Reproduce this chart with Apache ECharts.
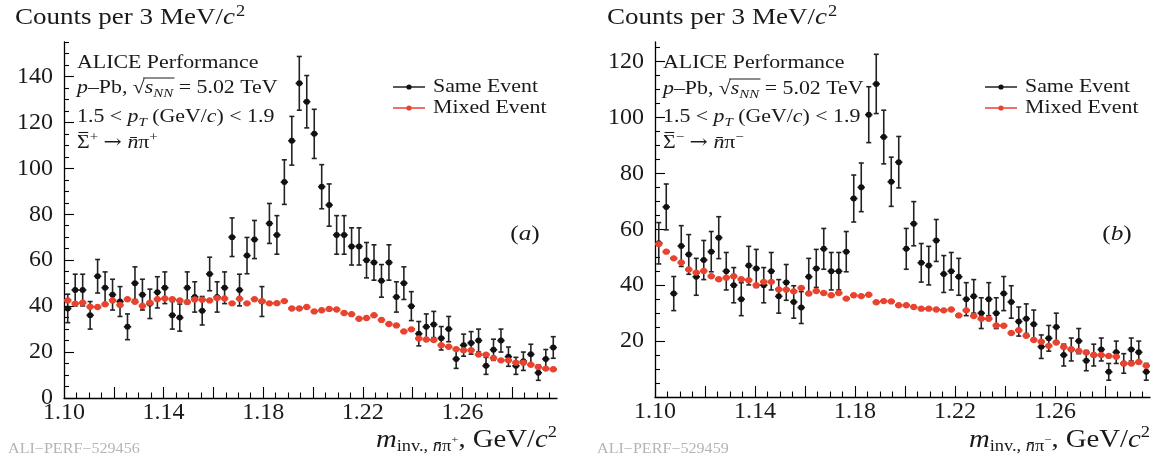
<!DOCTYPE html>
<html><head><meta charset="utf-8">
<script src="https://cdn.jsdelivr.net/npm/echarts@6/dist/echarts.min.js"></script>
<style>html,body{margin:0;padding:0;background:#fff}#c{width:1154px;height:463px}</style>
</head><body><div id="c"></div>
<script>
// ---- data (bin centres in GeV/c^2, 3 MeV bins) ----
const binCenters = [1.1015,1.1045,1.1075,1.1105,1.1135,1.1165,1.1195,1.1225,1.1255,1.1285,
 1.1315,1.1345,1.1375,1.1405,1.1435,1.1465,1.1495,1.1525,1.1555,1.1585,
 1.1615,1.1645,1.1675,1.1705,1.1735,1.1765,1.1795,1.1825,1.1855,1.1885,
 1.1915,1.1945,1.1975,1.2005,1.2035,1.2065,1.2095,1.2125,1.2155,1.2185,
 1.2215,1.2245,1.2275,1.2305,1.2335,1.2365,1.2395,1.2425,1.2455,1.2485,
 1.2515,1.2545,1.2575,1.2605,1.2635,1.2665,1.2695,1.2725,1.2755,1.2785,
 1.2815,1.2845,1.2875,1.2905,1.2935,1.2965];
const halfBin = 0.0015;

// panel (a): Sigma+bar -> nbar pi+
const sameA = [39,47,47,36,53,48,45,42,31,50, 45,41,46,48,36,35,48,44,38,54,
 44,48,70,47,62,69,42,76,71,94, 112,137,129,115,92,84,71,71,66,66,
 60,59,51,59,44,50,40,28,31,32, 26,30,17,23,24,25,14,21,25,18, 14,16,19,11,17,22];
const sameAErr = [6.2,6.9,6.9,6.0,7.3,6.9,6.7,6.5,5.6,7.1, 6.7,6.4,6.8,6.9,6.0,5.9,6.9,6.6,6.2,7.3,
 6.6,6.9,8.4,6.9,7.9,8.3,6.5,8.7,8.4,9.7, 10.6,11.7,11.4,10.7,9.6,9.2,8.4,8.4,8.1,8.1,
 7.7,7.7,7.1,7.7,6.6,7.1,6.3,5.3,5.6,5.7, 5.1,5.5,4.1,4.8,4.9,5.0,3.7,4.6,5.0,4.2, 3.7,4.0,4.4,3.3,4.1,4.7];
const mixedA = [42.5,41.1,41.5,39.7,39.6,40.8,42.5,40.5,43.0,41.9, 40.1,41.5,43.0,43.3,43.0,42.5,41.8,42.9,42.8,42.5,
 43.5,43.3,41.2,43.2,41.2,43.0,42.2,41.2,41.3,42.2, 39.0,39.0,39.6,37.7,38.2,38.8,38.5,37.0,36.5,34.5,
 34.8,36.0,34.0,32.2,31.6,29.0,29.9,25.9,25.5,25.2, 23.0,22.3,21.3,20.8,20.8,18.9,18.9,17.4,16.4,16.4, 15.4,15.4,14.5,13.5,12.8,12.5];

// panel (b): Sigma-bar -> nbar pi-
const sameB = [55,68,37,54,51,43,49,52,57,45, 40,35,47,46,40,45,36,41,34,32,
 43,46,53,45,45,52,71,75,101,112, 93,77,84,53,62,48,47,56,44,45,
 43,35,36,30,35,30,37,34,27,28, 26,18,21,25,15,17,20,13,15,17, 9,16,12,17,16,9];
const sameBErr = [7.4,8.2,6.1,7.3,7.1,6.6,7.0,7.2,7.5,6.7, 6.3,5.9,6.9,6.8,6.3,6.7,6.0,6.4,5.8,5.7,
 6.6,6.8,7.3,6.7,6.7,7.2,8.4,8.7,10.0,10.6, 9.6,8.8,9.2,7.3,7.9,6.9,6.9,7.5,6.6,6.7,
 6.6,5.9,6.0,5.5,5.9,5.5,6.1,5.8,5.2,5.3, 5.1,4.2,4.6,5.0,3.9,4.1,4.5,3.6,3.9,4.1, 3.0,4.0,3.5,4.1,4.0,3.0];
const mixedB = [54.7,52.0,49.6,48.1,45.6,44.5,45.1,43.2,42.1,42.7, 43.2,42.1,41.8,40.0,41.2,41.2,38.5,38.4,37.8,39.0,
 37.0,37.9,37.2,36.4,37.2,35.2,36.4,36.1,36.6,33.9, 34.3,34.2,32.8,32.8,32.2,31.6,31.6,31.3,31.0,31.3,
 29.2,31.0,29.0,28.0,28.0,25.6,25.5,22.9,23.9,21.9, 20.4,19.8,18.3,19.5,17.9,17.1,16.5,15.9,15.0,15.0, 14.7,14.4,12.0,12.0,12.5,11.2];

// ---- ticks ----
const xMajorTicks = [1.10,1.12,1.14,1.16,1.18,1.20,1.22,1.24,1.26,1.28];
const xTickLabels = [1.10,1.14,1.18,1.22,1.26];
const yMajorA = [0,20,40,60,80,100,120,140];
const yLabelA = [0,20,40,60,80,100,120,140];
const yMajorB = [0,20,40,60,80,100,120];
const yLabelB = [20,40,60,80,100,120];
const X_MIN = 1.10, X_MAX = 1.298, Y_MAX_A = 155, Y_MAX_B = 127;

const xMinorTicks = [];
xMajorTicks.forEach(m => [0.005,0.01,0.015].forEach(d => { const v = +(m + d).toFixed(4); if (v < X_MAX) xMinorTicks.push(v); }));
function yMinor(max){ const a=[]; for (let v=5; v<=max; v+=5) if (v%20) a.push(v); return a; }

// ---- style ----
const FONT = '"Liberation Serif","Times New Roman",serif';
const INK = '#1a1a1a';
const RED = '#e8432f';
const SX = 1.15;

function mainX(gi){
  return {type:'value', gridIndex:gi, min:X_MIN, max:X_MAX,
    axisLine:{show:true, onZero:false, lineStyle:{color:'#000', width:1.3}},
    axisTick:{show:true, inside:true, length:11, customValues:xMajorTicks, lineStyle:{color:'#000', width:1.1}},
    axisLabel:{show:true, customValues:xTickLabels, formatter:v=>Number(v).toFixed(2), margin:3,
      fontFamily:FONT, fontSize:24, color:INK},
    splitLine:{show:false}};
}
function minorX(gi){
  return {type:'value', gridIndex:gi, min:X_MIN, max:X_MAX,
    axisLine:{show:false}, axisLabel:{show:false}, splitLine:{show:false},
    axisTick:{show:true, inside:true, length:5.5, customValues:xMinorTicks, lineStyle:{color:'#000', width:1.1}}};
}
function mainY(gi, max, ticks, labels){
  return {type:'value', gridIndex:gi, min:0, max:max,
    axisLine:{show:true, onZero:false, lineStyle:{color:'#000', width:1.3}},
    axisTick:{show:true, inside:true, length:10, customValues:ticks, lineStyle:{color:'#000', width:1.1}},
    axisLabel:{show:true, customValues:labels, margin:11, fontFamily:FONT, fontSize:24, color:INK},
    splitLine:{show:false}};
}
function minorY(gi, max){
  return {type:'value', gridIndex:gi, min:0, max:max,
    axisLine:{show:false}, axisLabel:{show:false}, splitLine:{show:false},
    axisTick:{show:true, inside:true, length:5, customValues:yMinor(max), lineStyle:{color:'#000', width:1.1}}};
}

function renderSame(params, api){
  const x = api.value(0), y = api.value(1), e = api.value(2);
  const p = api.coord([x, y]);
  const pL = api.coord([x - halfBin, y]), pR = api.coord([x + halfBin, y]);
  const pT = api.coord([x, y + e]), pB = api.coord([x, y - e]);
  const st = {stroke:'#222', lineWidth:1.6};
  return {type:'group', children:[
    {type:'line', shape:{x1:p[0], y1:pT[1], x2:p[0], y2:pB[1]}, style:st},
    {type:'line', shape:{x1:p[0]-2.5, y1:pT[1], x2:p[0]+2.5, y2:pT[1]}, style:st},
    {type:'line', shape:{x1:p[0]-2.5, y1:pB[1], x2:p[0]+2.5, y2:pB[1]}, style:st},
    {type:'line', shape:{x1:pL[0], y1:p[1], x2:pR[0], y2:p[1]}, style:st},
    {type:'circle', shape:{cx:p[0], cy:p[1], r:3.0}, style:{fill:'#111'}}
  ]};
}
function renderMixed(params, api){
  const x = api.value(0), y = api.value(1);
  const p = api.coord([x, y]);
  const pL = api.coord([x - halfBin, y]), pR = api.coord([x + halfBin, y]);
  return {type:'group', children:[
    {type:'line', shape:{x1:pL[0], y1:p[1], x2:pR[0], y2:p[1]}, style:{stroke:RED, lineWidth:2.6}},
    {type:'circle', shape:{cx:p[0], cy:p[1], r:3.2}, style:{fill:RED}}
  ]};
}
function errSeries(name, xi, vals, errs){
  return {type:'custom', name, xAxisIndex:xi, yAxisIndex:xi, z:3, renderItem:renderSame,
    encode:{x:0, y:1}, data:binCenters.map((c,i)=>[c, vals[i], errs[i]])};
}
function mixSeries(name, xi, vals){
  return {type:'custom', name, xAxisIndex:xi, yAxisIndex:xi, z:4, renderItem:renderMixed,
    encode:{x:0, y:1}, data:binCenters.map((c,i)=>[c, vals[i]])};
}

// ---- text helpers ----
function R(size, o){ return Object.assign({fontFamily:FONT, fontSize:size, fill:INK, lineHeight:size+6}, o||{}); }
function T(x, y, text, rich, align, extra){
  return Object.assign({type:'text', x:x, y:y, scaleX:SX, silent:true, z:10,
    style:{text:text, rich:rich, align:align||'left', verticalAlign:'middle', fill:INK, fontFamily:FONT, fontSize:19}}, extra||{});
}
const mctx = document.createElement('canvas').getContext('2d');
function tw(t, size, italic){ mctx.font = (italic?'italic ':'') + size + 'px "Liberation Serif"'; return mctx.measureText(t).width; }

const titleRich = {n:R(23.5,{lineHeight:28}), i:R(23.5,{fontStyle:'italic', lineHeight:28}), s:R(16,{lineHeight:16, verticalAlign:'top', padding:[0,0,0,1]})};
const annRich = {n:R(19,{lineHeight:24}), i:R(19,{fontStyle:'italic', lineHeight:24}),
  ar:R(19,{lineHeight:24, fontFamily:'"DejaVu Serif",serif'}),
  sub:R(13,{fontStyle:'italic', lineHeight:12, verticalAlign:'bottom'}), sup:R(13,{lineHeight:12, verticalAlign:'top'})};
const axRich = {m:R(25,{fontStyle:'italic', lineHeight:30}), sub:R(16,{lineHeight:15, verticalAlign:'bottom'}),
  subi:R(16,{fontStyle:'italic', lineHeight:15, verticalAlign:'bottom'}), sp:R(11,{lineHeight:11, verticalAlign:'middle', padding:[0,0,0,0]}),
  n:R(25,{lineHeight:30}), i:R(25,{fontStyle:'italic', lineHeight:30}), s:R(16,{lineHeight:16, verticalAlign:'top'})};
const capRich = {n:R(22,{lineHeight:26}), i:R(22,{fontStyle:'italic', lineHeight:26})};

function overline(X, yc){
  const a = tw('p',19,true) + tw('–Pb, ',19);
  const r = tw('√',19);
  const s = tw('s',19,true) + tw('NN',13,true);
  return {type:'line', silent:true, z:10, shape:{x1:X+(a+r*0.85)*SX, y1:yc-10, x2:X+(a+r+s+1)*SX, y2:yc-10},
    style:{stroke:INK, lineWidth:1}};
}
function sigmaBar(X, yc){
  const w = tw('\u03A3',19);
  return {type:'line', silent:true, z:10, shape:{x1:X+1.5, y1:yc-10.5, x2:X+w*SX-1.5, y2:yc-10.5},
    style:{stroke:INK, lineWidth:1.1}};
}

function panelTexts(o){
  const g = [];
  g.push(T(o.titleX, 18, '{n|Counts per 3 MeV/}{i|c}{s|2}', titleRich));
  g.push(T(o.annX, 63, '{n|ALICE Performance}', annRich));
  g.push(T(o.annX, o.y2, '{i|p}{n|–Pb, √}{i|s}{sub|NN}{n| = 5.02 TeV}', annRich));
  g.push(overline(o.annX, o.y2));
  g.push(T(o.annX, 117, '{n|1.5 < }{i|p}{sub|T}{n| (GeV/}{i|c}{n|) < 1.9}', annRich));
  g.push(T(o.annX, 143, '{n|\u03A3}{sup|' + o.sign + '}{n| }{ar|\u2192}{n| }{i|n\u0304}{n|\u03C0}{sup|' + o.sign + '}', annRich));
  g.push(sigmaBar(o.annX, 143));
  // legend
  g.push({type:'line', silent:true, z:10, shape:{x1:o.legX, y1:87, x2:o.legX+32, y2:87}, style:{stroke:'#222', lineWidth:1.5}});
  g.push({type:'circle', silent:true, z:11, shape:{cx:o.legX+16, cy:87, r:2.6}, style:{fill:'#111'}});
  g.push({type:'line', silent:true, z:10, shape:{x1:o.legX, y1:108, x2:o.legX+32, y2:108}, style:{stroke:RED, lineWidth:1.5}});
  g.push({type:'circle', silent:true, z:11, shape:{cx:o.legX+16, cy:108, r:2.6}, style:{fill:RED}});
  g.push(T(o.legX+40, 87, 'Same Event', null, 'left', {style:{text:'Same Event', fill:INK, fontFamily:FONT, fontSize:19, verticalAlign:'middle'}}));
  g.push(T(o.legX+40, 108, 'Mixed Event', null, 'left', {style:{text:'Mixed Event', fill:INK, fontFamily:FONT, fontSize:19, verticalAlign:'middle'}}));
  // panel tag
  g.push(T(o.tagX, 234, '{n|(}{i|' + o.tag + '}{n|)}', capRich, 'center'));
  // x-axis title
  g.push(T(o.axEnd, 440, '{m|m}{sub|inv., }{subi|n\u0304}{sub|\u03C0}{sp|' + o.sign + '}{n|, GeV/}{i|c}{s|2}', axRich, 'right'));
  // id
  g.push(T(o.idX, 449, o.id, null, 'left', {style:{text:o.id, fill:'#b4b4b4', fontFamily:FONT, fontSize:14, verticalAlign:'middle'}}));
  return g;
}

const graphics = [].concat(
  panelTexts({titleX:15, annX:77, y2:88, sign:'+', legX:393, tagX:525, tag:'a', axEnd:557, idX:8, id:'ALI\u2212PERF\u2212529456'}),
  panelTexts({titleX:607, annX:663, y2:89, sign:'\u2212', legX:985, tagX:1117, tag:'b', axEnd:1150, idX:597, id:'ALI\u2212PERF\u2212529459'})
);

const chart = echarts.init(document.getElementById('c'), null, {renderer:'canvas'});
chart.setOption({
  animation:false,
  backgroundColor:'#fff',
  grid:[
    {left:64, top:42, width:493, height:356},
    {left:64, top:42, width:493, height:356},
    {left:655, top:42, width:495, height:355},
    {left:655, top:42, width:495, height:355}
  ],
  xAxis:[mainX(0), minorX(1), mainX(2), minorX(3)],
  yAxis:[mainY(0, Y_MAX_A, yMajorA, yLabelA), minorY(1, Y_MAX_A), mainY(2, Y_MAX_B, yMajorB, yLabelB), minorY(3, Y_MAX_B)],
  series:[
    errSeries('Same Event (a)', 0, sameA, sameAErr),
    mixSeries('Mixed Event (a)', 0, mixedA),
    errSeries('Same Event (b)', 2, sameB, sameBErr),
    mixSeries('Mixed Event (b)', 2, mixedB)
  ],
  graphic:graphics
});
</script></body></html>
